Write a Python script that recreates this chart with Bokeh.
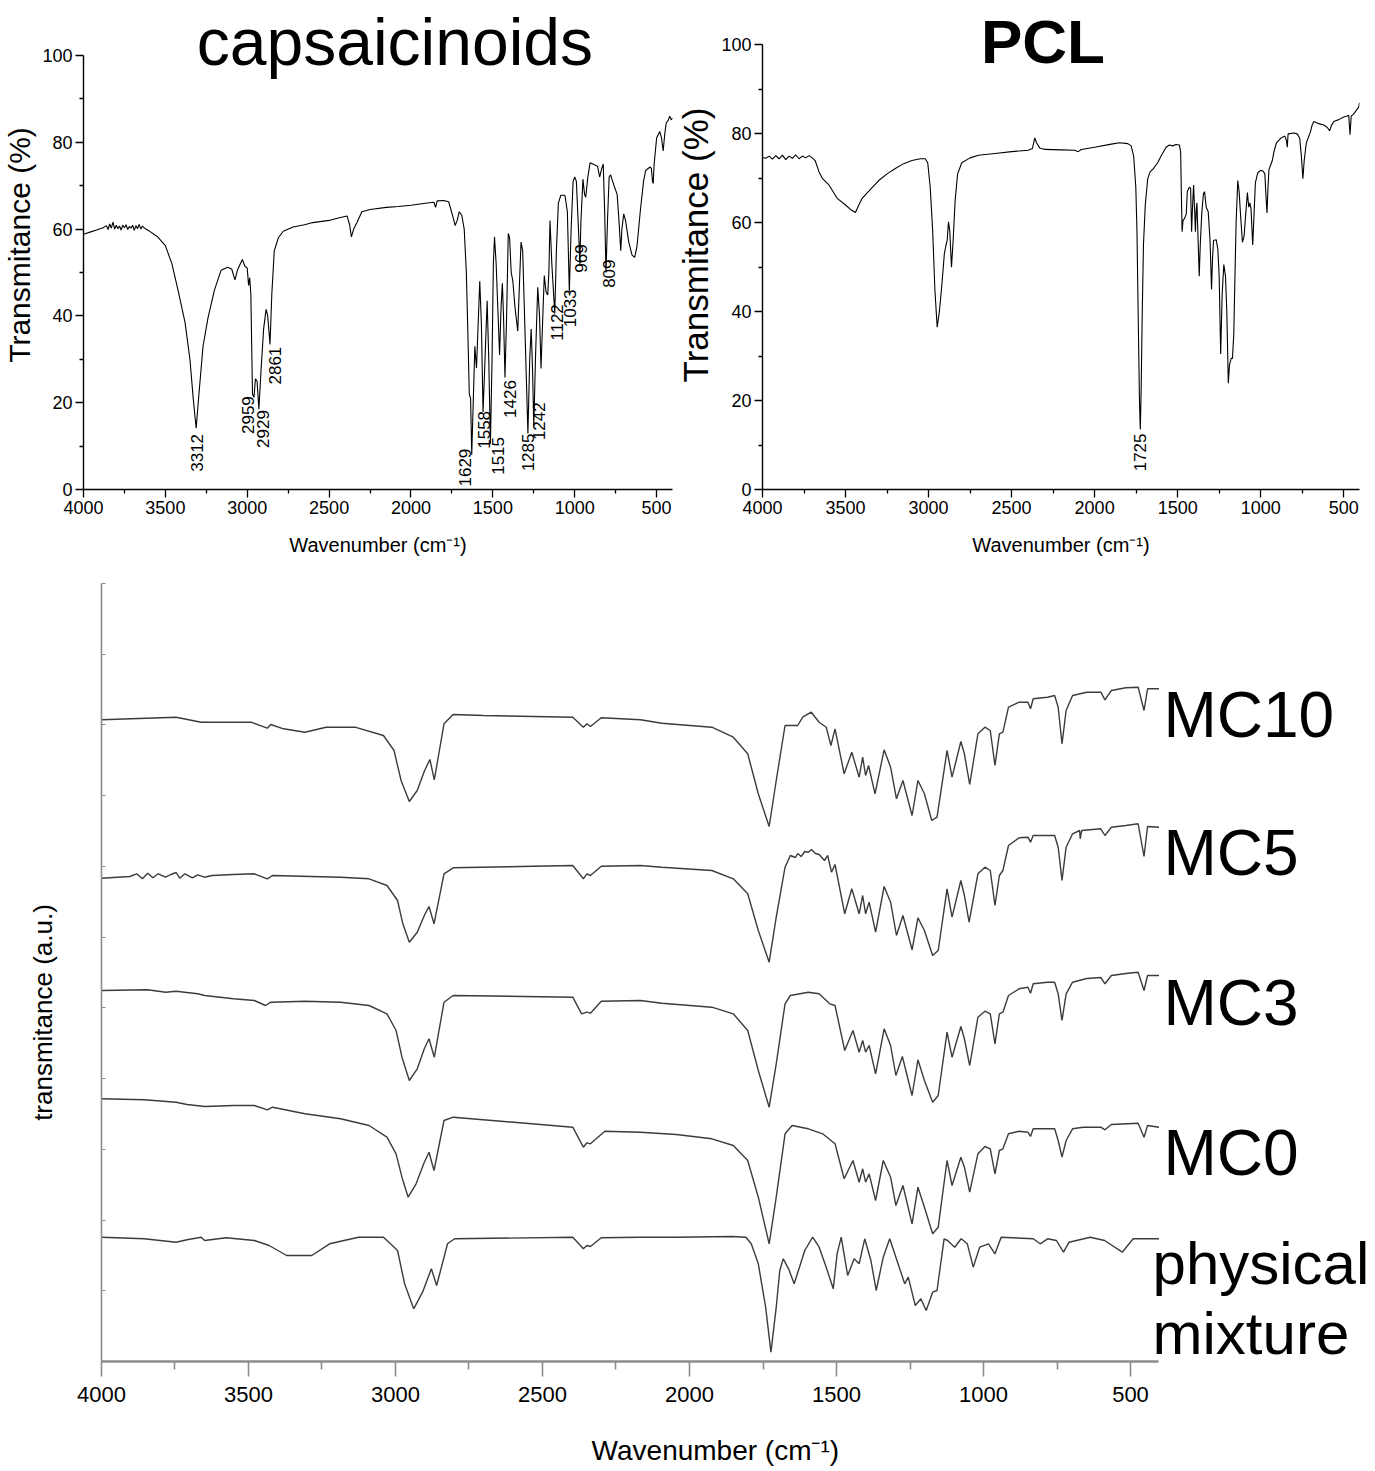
import math
from bokeh.plotting import figure
from bokeh.models import Range1d, Label, FixedTicker, CustomJSTickFormatter
from bokeh.layouts import column, row
from bokeh.embed import file_html
from bokeh.resources import INLINE
from bokeh.core.properties import value

FONT = "Liberation Sans"

# ---------------- data: capsaicinoids (wavenumber, transmittance %) ----------------
caps_wn = [4000, 3960, 3920, 3880, 3860, 3850, 3840, 3830, 3820, 3810, 3800, 3790, 3780, 3770, 3760,
           3750, 3740, 3730, 3720, 3710, 3700, 3690, 3680, 3670, 3660, 3650, 3640, 3620, 3600, 3550,
           3500, 3460, 3420, 3380, 3350, 3330, 3312, 3295, 3270, 3240, 3200, 3160, 3120, 3095, 3075,
           3060, 3045, 3030, 3015, 3000, 2992, 2985, 2978, 2968, 2959, 2950, 2940, 2929, 2915, 2900,
           2885, 2875, 2861, 2850, 2835, 2810, 2780, 2720, 2650, 2600, 2500, 2450, 2390, 2375, 2364,
           2350, 2330, 2300, 2250, 2150, 2078, 2000, 1900, 1860, 1850, 1840, 1800, 1770, 1745, 1730,
           1718, 1705, 1690, 1675, 1662, 1652, 1644, 1636, 1629, 1620, 1610, 1600, 1590, 1580, 1570,
           1560, 1548, 1535, 1525, 1515, 1505, 1497, 1490, 1480, 1468, 1459, 1450, 1442, 1435, 1426,
           1416, 1406, 1398, 1388, 1378, 1365, 1348, 1338, 1328, 1318, 1305, 1286, 1275, 1266, 1258,
           1250, 1240, 1226, 1215, 1206, 1195, 1186, 1175, 1165, 1158, 1151, 1140, 1122, 1112, 1100,
           1085, 1060, 1045, 1033, 1022, 1010, 1000, 990, 975, 969, 962, 950, 940, 933, 920,
           906, 880, 861, 848, 835, 826, 818, 809, 800, 790, 781, 760, 741, 730, 719,
           712, 701, 690, 670, 650, 634, 620, 600, 580, 567, 540, 532, 525, 521, 515,
           500, 481, 470, 460, 450, 441, 430, 420, 410, 402]
caps_t = [58.8, 59.3, 59.8, 60.3, 60.8, 59.9, 61.2, 60.2, 61.6, 60.0, 60.9, 60.1, 60.7, 59.8, 60.9,
          60.3, 61.0, 59.9, 60.6, 60.2, 60.9, 59.7, 60.8, 60.1, 61.1, 60.0, 60.7, 60.0, 59.6, 58.3,
          56.2, 52.0, 45.5, 38.5, 30.0, 21.0, 14.1, 22.0, 33.0, 39.5, 46.0, 50.5, 51.2, 50.8, 48.3,
          50.5, 51.8, 53.0, 51.5, 51.0, 47.0, 48.8, 45.0, 22.0, 21.2, 25.5, 25.0, 18.5, 28.0, 37.0,
          41.5, 40.0, 33.4, 45.0, 55.0, 58.0, 59.5, 60.5, 61.0, 61.5, 62.0, 62.5, 63.0, 61.0, 58.2,
          60.0, 61.5, 64.0, 64.5, 65.0, 65.2, 65.5, 66.0, 66.2, 65.0, 66.5, 66.6, 66.3, 63.0, 60.8,
          62.0, 64.0, 63.2, 60.0, 50.0, 35.0, 22.0, 21.0, 8.0, 20.0, 33.0, 28.0, 38.0, 48.0, 38.0,
          17.8, 30.0, 43.5, 30.0, 10.5, 30.0, 52.0, 58.2, 52.0, 40.0, 31.0, 42.0, 47.5, 40.0, 25.8,
          40.0, 59.0, 58.0, 50.0, 48.0, 42.0, 36.5, 47.0, 57.0, 55.0, 38.0, 12.9, 30.0, 37.0, 28.0,
          14.5, 30.0, 46.6, 40.0, 27.9, 40.0, 49.3, 45.5, 44.8, 50.0, 62.0, 52.0, 40.5, 55.0, 66.0,
          67.8, 67.8, 64.0, 45.5, 60.0, 71.0, 72.0, 71.0, 58.0, 51.8, 62.0, 71.5, 68.0, 67.3, 72.0,
          75.3, 74.8, 74.5, 72.0, 74.0, 75.0, 65.0, 50.0, 62.0, 72.0, 72.5, 70.0, 68.0, 62.0, 55.0,
          60.0, 63.5, 62.0, 57.0, 54.0, 53.5, 56.0, 64.0, 71.0, 73.5, 74.3, 74.0, 71.0, 70.5, 75.0,
          81.0, 82.5, 81.0, 78.0, 82.0, 84.5, 85.0, 86.0, 85.2, 85.6]

# peak labels: text, x position (cm-1), top of the label (%)
caps_peak_text = ["3312", "2959", "2929", "2861", "1629", "1558", "1515", "1426", "1285", "1242",
                  "1122", "1033", "969", "809"]
caps_peak_x = [3308, 2995, 2906, 2832, 1671, 1556, 1471, 1396, 1283, 1217, 1110, 1029, 960, 789]
caps_peak_top = [12.8, 21.5, 18.3, 32.9, 9.4, 18.1, 12.1, 25.2, 12.9, 20.1, 42.7, 46.1, 56.5, 53.0]

# ---------------- data: PCL ----------------
pcl_wn = [4000, 3980, 3960, 3940, 3920, 3900, 3880, 3860, 3840, 3820, 3800, 3780, 3760, 3740, 3720,
          3700, 3683, 3660, 3640, 3600, 3550, 3500, 3470, 3440, 3420, 3400, 3350, 3300, 3250, 3200,
          3150, 3100, 3050, 3020, 3005, 2990, 2975, 2962, 2948, 2935, 2920, 2905, 2895, 2888, 2880,
          2872, 2862, 2852, 2840, 2825, 2800, 2750, 2700, 2600, 2500, 2400, 2375, 2360, 2350, 2330,
          2300, 2200, 2120, 2100, 2080, 2000, 1900, 1850, 1800, 1780, 1765, 1752, 1745, 1738, 1730,
          1725, 1720, 1714, 1706, 1695, 1680, 1665, 1650, 1620, 1600, 1570, 1550, 1530, 1510, 1490,
          1482, 1477, 1473, 1468, 1458, 1448, 1442, 1430, 1422, 1416, 1410, 1404, 1398, 1393, 1388,
          1384, 1376, 1370, 1364, 1355, 1345, 1338, 1328, 1316, 1305, 1296, 1290, 1284, 1268, 1258,
          1250, 1241, 1232, 1222, 1212, 1204, 1195, 1188, 1178, 1170, 1162, 1155, 1148, 1138, 1130,
          1120, 1110, 1100, 1090, 1080, 1072, 1065, 1058, 1048, 1040, 1032, 1018, 1000, 985, 975,
          968, 962, 956, 950, 940, 930, 920, 905, 880, 855, 845, 840, 835, 800, 780,
          765, 755, 746, 738, 725, 710, 700, 690, 680, 650, 620, 600, 585, 575, 560,
          530, 500, 480, 470, 462, 455, 440, 420, 410, 405]
pcl_t = [74.7, 74.5, 75.0, 74.3, 75.1, 74.4, 75.2, 74.2, 75.0, 74.5, 75.3, 74.4, 75.0, 74.6, 75.1,
         74.6, 74.0, 71.5, 70.0, 68.5, 65.5, 64.0, 63.0, 62.3, 64.0, 65.5, 67.5, 69.5, 71.0, 72.2,
         73.3, 74.0, 74.4, 74.4, 73.5, 68.0, 58.0, 45.0, 36.5, 40.0, 46.0, 53.0, 55.0, 56.0, 60.2,
         58.0, 50.0, 56.0, 65.0, 71.0, 73.5, 74.6, 75.2, 75.6, 76.0, 76.3, 76.7, 79.1, 78.0, 76.8,
         76.5, 76.4, 76.3, 76.0, 76.5, 77.0, 77.7, 78.0, 77.8, 77.3, 75.0, 68.0, 58.0, 40.0, 20.0,
         13.5, 22.0, 38.0, 55.0, 64.0, 70.0, 71.5, 72.0, 73.5, 75.0, 77.0, 77.5, 77.3, 77.6, 77.5,
         76.0, 65.0, 58.0, 60.5, 61.0, 62.0, 67.0, 68.0, 67.8, 58.0, 64.0, 68.5, 63.0, 58.0, 63.0,
         64.5, 55.0, 48.0, 55.0, 62.0, 66.5, 67.0, 63.5, 62.5, 56.0, 45.0, 52.0, 56.0, 56.2, 54.0,
         48.0, 30.5, 44.0, 50.6, 48.0, 40.0, 23.9, 28.0, 29.5, 29.5, 35.0, 48.0, 60.0, 69.5, 67.0,
         61.0, 55.6, 57.0, 62.0, 66.8, 63.5, 64.5, 63.0, 55.0, 62.0, 69.0, 71.2, 71.8, 71.6, 71.0,
         66.0, 62.2, 68.0, 72.0, 73.0, 74.0, 76.0, 78.0, 79.0, 79.5, 78.5, 77.0, 80.0, 80.2, 80.0,
         79.0, 75.0, 69.9, 74.0, 78.0, 79.5, 80.5, 82.0, 82.8, 82.3, 82.0, 81.5, 80.7, 81.8, 82.8,
         83.2, 83.8, 84.0, 84.2, 79.8, 84.0, 84.5, 85.5, 86.0, 87.0]
pcl_peak_text = ["1725"]
pcl_peak_x = [1725]
pcl_peak_top = [12.6]

# ---------------- data: stacked spectra (transmittance, a.u.) ----------------
mc10_wn = [4000, 3746, 3661, 3491, 3436, 3424, 3381, 3308, 3236, 3138, 3041, 3005, 2981, 2953, 2926,
           2902, 2883, 2868, 2835, 2804, 2701, 2397, 2361, 2349, 2337, 2300, 2167, 2094, 1924, 1851,
           1802, 1766, 1729, 1705, 1675, 1632, 1615, 1586, 1559, 1535, 1519, 1505, 1474, 1448, 1423,
           1411, 1401, 1391, 1369, 1338, 1316, 1296, 1274, 1243, 1223, 1201, 1176, 1158, 1124, 1107,
           1077, 1065, 1047, 1019, 995, 977, 961, 946, 934, 915, 879, 849, 840, 831, 782,
           758, 746, 733, 719, 697, 649, 601, 587, 565, 516, 474, 454, 442, 403]
mc10_t = [641.7, 644.3, 639.3, 639.3, 633.3, 637.0, 632.7, 629.3, 634.3, 634.3, 626.0, 611.0, 581.0, 560.0, 571.0,
          590.3, 602.0, 581.7, 637.7, 647.0, 646.0, 644.3, 634.3, 637.7, 635.0, 643.7, 641.7, 638.3, 634.3, 624.3,
          607.7, 567.7, 535.0, 581.0, 636.0, 636.0, 644.3, 649.3, 639.3, 634.3, 616.0, 632.7, 587.7, 609.3, 584.3,
          604.3, 586.0, 596.0, 567.7, 611.7, 594.3, 562.7, 581.0, 546.0, 581.0, 567.7, 541.0, 544.3, 611.0, 584.3,
          620.0, 607.7, 577.0, 627.7, 634.3, 631.0, 596.0, 627.7, 629.3, 654.3, 659.3, 659.3, 652.7, 662.7, 664.3,
          666.0, 654.3, 617.7, 651.0, 666.0, 669.3, 669.3, 661.7, 671.0, 673.7, 674.3, 651.0, 672.7, 672.7]

mc5_wn = [4000, 3904, 3880, 3861, 3843, 3825, 3807, 3782, 3764, 3746, 3734, 3716, 3691, 3673, 3649,
          3624, 3551, 3480, 3436, 3418, 3187, 3090, 3029, 2993, 2975, 2953, 2926, 2902, 2886, 2869,
          2835, 2804, 2397, 2361, 2349, 2337, 2300, 2167, 2094, 1924, 1851, 1802, 1766, 1729, 1705,
          1675, 1657, 1640, 1632, 1620, 1608, 1596, 1585, 1572, 1559, 1541, 1530, 1517, 1505, 1472,
          1448, 1423, 1411, 1401, 1389, 1367, 1338, 1316, 1296, 1274, 1243, 1223, 1201, 1173, 1154,
          1124, 1107, 1077, 1065, 1049, 1019, 995, 977, 961, 946, 934, 915, 879, 849, 840,
          831, 782, 758, 746, 733, 719, 697, 673, 671, 666, 601, 587, 565, 516, 474,
          454, 442, 403]
mc5_t = [483.3, 485.0, 487.7, 482.7, 488.3, 483.7, 487.7, 484.3, 487.0, 489.0, 483.3, 487.7, 483.7, 486.7, 484.3,
         486.0, 487.0, 487.7, 482.7, 486.0, 484.3, 482.7, 476.0, 461.0, 437.7, 419.3, 429.3, 446.0, 455.0, 437.7,
         487.7, 493.7, 496.0, 482.7, 487.7, 486.0, 495.3, 496.0, 494.3, 491.0, 482.7, 467.7, 431.0, 399.3, 444.3,
         494.3, 506.0, 504.0, 508.0, 505.0, 510.0, 509.3, 512.0, 508.0, 507.0, 501.0, 506.0, 489.3, 497.0, 447.7,
         472.7, 447.7, 466.0, 447.7, 459.3, 429.3, 475.0, 459.3, 426.0, 446.0, 411.7, 443.7, 431.0, 406.0, 411.0,
         472.7, 444.3, 481.0, 466.0, 439.3, 487.7, 494.3, 491.0, 456.0, 486.0, 491.0, 516.0, 523.7, 524.3, 519.3,
         526.0, 526.0, 526.0, 514.3, 481.0, 514.3, 527.7, 531.0, 522.7, 531.0, 532.7, 526.0, 534.3, 536.0, 537.7,
         505.0, 535.0, 534.3]

mc3_wn = [4000, 3843, 3782, 3746, 3673, 3649, 3551, 3480, 3442, 3424, 3308, 3187, 3090, 3029, 2998,
          2978, 2953, 2926, 2902, 2886, 2868, 2835, 2804, 2397, 2367, 2349, 2337, 2300, 2167, 2094,
          1924, 1851, 1802, 1766, 1729, 1705, 1675, 1657, 1596, 1559, 1523, 1505, 1472, 1444, 1423,
          1411, 1401, 1389, 1367, 1338, 1316, 1298, 1276, 1243, 1223, 1201, 1173, 1154, 1124, 1107,
          1077, 1065, 1047, 1019, 995, 977, 961, 946, 934, 915, 879, 849, 840, 831, 782,
          758, 746, 733, 719, 697, 649, 601, 587, 565, 516, 474, 454, 442, 403]
mc3_t = [371.0, 371.7, 369.3, 370.3, 367.7, 366.0, 362.7, 361.0, 356.0, 359.3, 360.3, 359.3, 356.0, 347.7, 331.0,
         304.3, 281.0, 292.7, 312.7, 322.7, 304.3, 359.3, 366.0, 364.3, 347.7, 349.3, 348.3, 360.3, 361.0, 358.3,
         354.3, 347.7, 331.0, 291.0, 254.3, 297.7, 357.7, 366.0, 369.3, 367.7, 357.7, 356.0, 311.0, 331.0, 309.3,
         321.0, 309.3, 316.0, 287.7, 332.7, 316.0, 286.0, 305.0, 266.0, 301.7, 281.0, 259.3, 266.0, 329.3, 304.3,
         335.0, 322.7, 296.0, 344.3, 350.3, 347.7, 317.7, 347.7, 349.3, 366.0, 372.7, 374.3, 368.3, 377.7, 379.3,
         379.3, 367.7, 341.0, 367.7, 379.3, 383.0, 384.0, 377.7, 386.0, 388.0, 389.3, 371.0, 386.0, 386.0]

mc0_wn = [4000, 3855, 3746, 3709, 3649, 3551, 3480, 3436, 3418, 3308, 3187, 3090, 3029, 2998, 2978,
          2957, 2930, 2902, 2886, 2869, 2835, 2804, 2397, 2361, 2349, 2337, 2288, 2167, 2045, 1924,
          1851, 1802, 1766, 1729, 1705, 1675, 1651, 1596, 1547, 1505, 1474, 1444, 1423, 1411, 1401,
          1389, 1367, 1341, 1316, 1298, 1274, 1243, 1223, 1201, 1173, 1154, 1124, 1107, 1077, 1065,
          1047, 1019, 995, 977, 961, 946, 934, 915, 879, 849, 840, 831, 758, 746, 733,
          719, 697, 661, 601, 587, 565, 474, 454, 442, 403]
mc0_t = [262.7, 261.7, 259.3, 257.0, 255.0, 256.0, 256.0, 251.7, 254.3, 247.7, 242.7, 236.0, 224.3, 207.7, 184.3,
         164.3, 177.7, 199.3, 209.3, 191.0, 241.0, 244.3, 234.3, 214.3, 218.7, 217.7, 230.3, 229.3, 227.0, 222.7,
         216.0, 201.0, 164.3, 117.7, 164.3, 227.7, 236.0, 232.7, 227.7, 217.7, 182.7, 201.0, 179.3, 192.7, 179.3,
         187.7, 161.0, 201.0, 184.3, 156.0, 176.0, 137.7, 174.3, 154.3, 127.7, 134.3, 201.0, 176.0, 204.3, 194.3,
         169.3, 207.7, 215.0, 212.7, 187.7, 211.0, 212.7, 227.7, 230.3, 229.3, 225.0, 232.7, 232.7, 221.0, 204.3,
         221.0, 232.7, 234.3, 234.3, 231.7, 237.0, 238.3, 224.3, 236.0, 234.3]

mix_wn = [4000, 3855, 3746, 3709, 3661, 3649, 3576, 3480, 3430, 3370, 3285, 3224, 3126, 3041, 3017,
          2993, 2969, 2938, 2908, 2878, 2860, 2823, 2799, 2397, 2361, 2349, 2337, 2300, 2167, 2045,
          1857, 1808, 1790, 1766, 1741, 1723, 1705, 1693, 1681, 1663, 1644, 1626, 1608, 1581, 1559,
          1535, 1511, 1498, 1484, 1462, 1440, 1423, 1404, 1383, 1365, 1341, 1319, 1298, 1268, 1256,
          1232, 1213, 1195, 1173, 1158, 1134, 1122, 1098, 1076, 1055, 1035, 1013, 983, 961, 940,
          831, 807, 782, 752, 728, 709, 637, 588, 528, 491, 442, 403]
mix_t = [124.3, 122.7, 119.3, 121.7, 124.3, 121.0, 123.7, 121.0, 116.0, 106.0, 106.0, 117.7, 124.3, 124.3, 117.7,
         111.0, 77.7, 52.7, 69.3, 92.7, 76.0, 117.7, 122.7, 124.3, 112.7, 116.0, 115.0, 123.7, 124.3, 124.3,
         125.0, 124.3, 117.7, 97.7, 54.3, 9.3, 54.3, 91.0, 102.7, 92.7, 77.7, 94.3, 111.0, 124.3, 114.3,
         94.3, 72.7, 107.7, 124.3, 86.0, 102.7, 97.7, 122.7, 101.0, 71.0, 104.3, 122.7, 104.3, 77.7, 84.3,
         56.0, 62.7, 51.0, 69.3, 71.0, 122.7, 121.0, 114.3, 122.7, 117.7, 94.3, 114.3, 117.7, 107.7, 124.3,
         122.7, 117.7, 122.7, 121.0, 109.3, 119.3, 124.3, 121.0, 109.3, 122.7, 122.7, 122.7]

x_major = [4000, 3500, 3000, 2500, 2000, 1500, 1000, 500]
x_minor = [3750, 3250, 2750, 2250, 1750, 1250, 750]
y_major = [0, 20, 40, 60, 80, 100]
y_minor = [10, 30, 50, 70, 90]


def style_top(p, ylabel_size):
    p.outline_line_color = None
    p.grid.visible = False
    for ax in (p.xaxis[0], p.yaxis[0]):
        ax.axis_line_color = "black"
        ax.axis_line_width = 1.4
        ax.major_tick_line_color = "black"
        ax.minor_tick_line_color = "black"
        ax.major_tick_line_width = 1.3
        ax.minor_tick_line_width = 1.3
        ax.major_tick_in = 0
        ax.major_tick_out = 8
        ax.minor_tick_in = 0
        ax.minor_tick_out = 4
        ax.major_label_text_font = FONT
        ax.major_label_text_font_size = "18px"
        ax.major_label_text_color = "black"
        ax.axis_label_text_font = FONT
        ax.axis_label_text_font_style = "normal"
        ax.axis_label_text_color = "black"
    p.xaxis[0].ticker = FixedTicker(ticks=x_major, minor_ticks=x_minor)
    p.yaxis[0].ticker = FixedTicker(ticks=y_major, minor_ticks=y_minor)
    p.yaxis[0].bounds = (0, 100)
    p.xaxis[0].axis_label = "Wavenumber (cm\u207b\u00b9)"
    p.xaxis[0].axis_label_text_font_size = "20px"
    p.xaxis[0].major_label_standoff = 3
    p.xaxis[0].axis_label_standoff = 17
    p.yaxis[0].axis_label = "Transmitance (%)"
    p.yaxis[0].axis_label_text_font_size = ylabel_size
    p.yaxis[0].major_label_standoff = 3
    p.yaxis[0].axis_label_standoff = 3


# ---------------- capsaicinoids panel ----------------
p1 = figure(width=673, height=570, output_backend="svg", toolbar_location=None,
            x_range=Range1d(4000, 403), y_range=Range1d(0, 112.67),
            min_border_left=80, min_border_right=1, min_border_top=0, min_border_bottom=81)
style_top(p1, "30px")
p1.line(caps_wn, caps_t, line_color="black", line_width=1.1)
p1.text(caps_peak_x, caps_peak_top, text=caps_peak_text, angle=math.pi / 2,
        text_align="right", text_baseline="middle", text_font=value(FONT),
        text_font_size="17px", text_color="black")
p1.add_layout(Label(x=2098, y=103.0, text="capsaicinoids", text_align="center",
                    text_baseline="alphabetic", text_font=FONT, text_font_size="66px",
                    text_color="black"))

# ---------------- PCL panel ----------------
p2 = figure(width=702, height=570, output_backend="svg", toolbar_location=None,
            x_range=Range1d(4000, 405), y_range=Range1d(0, 110.0),
            min_border_left=82, min_border_right=16, min_border_top=0, min_border_bottom=81)
style_top(p2, "35px")
p2.line(pcl_wn, pcl_t, line_color="black", line_width=1.1)
p2.text(pcl_peak_x, pcl_peak_top, text=pcl_peak_text, angle=math.pi / 2,
        text_align="right", text_baseline="middle", text_font=value(FONT),
        text_font_size="17px", text_color="black")
p2.add_layout(Label(x=2311, y=100.8, text="PCL", text_align="center",
                    text_baseline="alphabetic", text_font=FONT, text_font_size="62px",
                    text_font_style="bold", text_color="black"))

# ---------------- stacked panel (frame fills the figure; axes at fixed locations) ----------------
p3 = figure(width=1375, height=901, output_backend="svg", toolbar_location=None,
            x_range=Range1d(4343.5, -333.3), y_range=Range1d(-110, 791),
            min_border_left=0, min_border_right=0, min_border_top=0, min_border_bottom=0)
p3.outline_line_color = None
p3.grid.visible = False
GRAY = "#8c8c8c"
xa = p3.xaxis[0]
xa.fixed_location = 0
xa.ticker = FixedTicker(ticks=x_major, minor_ticks=x_minor)
xa.bounds = (405, 4000)
xa.axis_line_color = GRAY
xa.axis_line_width = 2.5
xa.major_tick_line_color = GRAY
xa.minor_tick_line_color = GRAY
xa.major_tick_line_width = 1.6
xa.minor_tick_line_width = 1.6
xa.major_tick_in = 0
xa.major_tick_out = 15
xa.minor_tick_in = 0
xa.minor_tick_out = 8
xa.major_label_text_font = FONT
xa.major_label_text_font_size = "22px"
xa.major_label_text_color = "black"
xa.major_label_standoff = 10
ya = p3.yaxis[0]
ya.fixed_location = 4000
ya.ticker = FixedTicker(ticks=[i * 778 / 11 for i in range(12)], minor_ticks=[])
ya.formatter = CustomJSTickFormatter(code="return ''")
ya.bounds = (0, 778)
ya.axis_line_color = GRAY
ya.axis_line_width = 1.6
ya.major_tick_line_color = GRAY
ya.major_tick_in = 4
ya.major_tick_out = 0

LINE = "#3c3c3c"
for wn, tt in [(mc10_wn, mc10_t), (mc5_wn, mc5_t), (mc3_wn, mc3_t), (mc0_wn, mc0_t), (mix_wn, mix_t)]:
    p3.line(wn, tt, line_color=LINE, line_width=1.4)

label_x = [388, 388, 388, 388]
label_y = [647, 509, 359, 209]
label_txt = ["MC10", "MC5", "MC3", "MC0"]
p3.text(label_x, label_y, text=label_txt, text_align="left", text_baseline="alphabetic",
        text_font=value(FONT), text_font_size="64px", text_color="black")
p3.text([425, 425], [98, 28], text=["physical", "mixture"], text_align="left",
        text_baseline="alphabetic", text_font=value(FONT), text_font_size="60px",
        text_color="black")
p3.text([1912], [-89], text=["Wavenumber (cm\u207b\u00b9)"], text_align="center",
        text_baseline="middle", text_font=value(FONT), text_font_size="28px",
        text_color="black")
p3.text([4200], [349], text=["transmitance (a.u.)"], angle=math.pi / 2,
        text_align="center", text_baseline="middle", text_font=value(FONT),
        text_font_size="26px", text_color="black")

layout = column(row(p1, p2), p3)
open("out.html", "w").write(file_html(layout, INLINE))
